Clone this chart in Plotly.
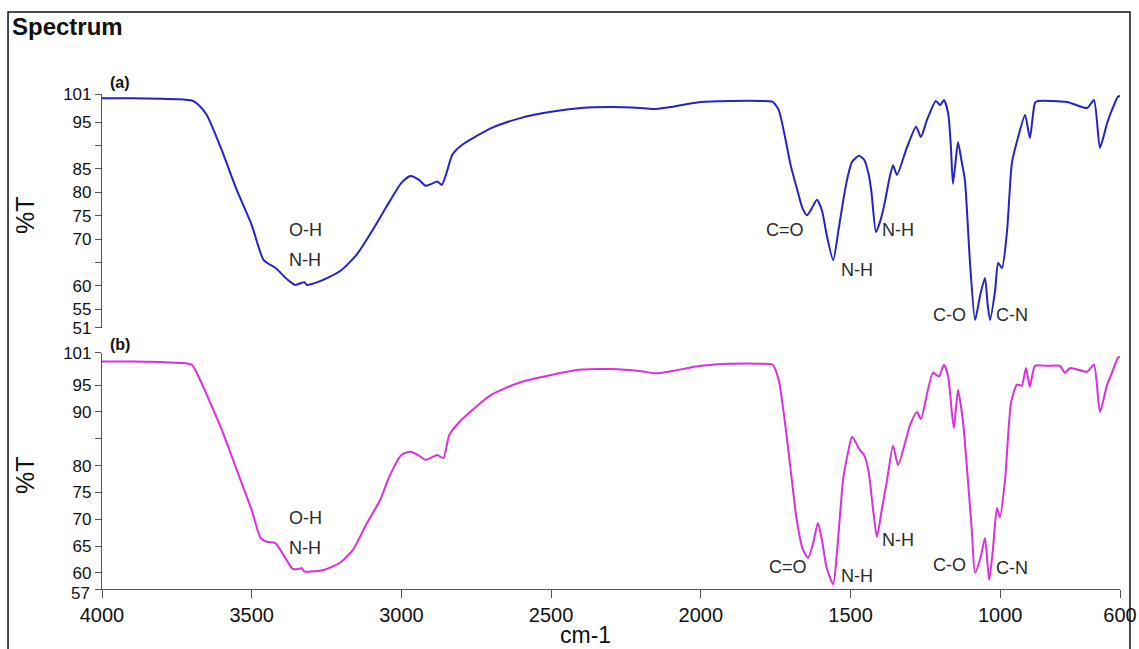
import plotly.graph_objects as go

# ---- data ----
wn_a = [4000, 3900, 3800, 3750, 3700, 3680, 3650, 3600, 3550, 3500, 3460, 3420, 3380, 3355, 3335, 3325, 3315,
        3280, 3240, 3200, 3150, 3100, 3050, 3000, 2970, 2940, 2920, 2900, 2880, 2865, 2850, 2830, 2800, 2700,
        2600, 2500, 2400, 2300, 2200, 2150, 2100, 2050, 2000, 1900, 1800, 1760, 1740, 1720, 1700, 1680, 1660,
        1645, 1630, 1612, 1595, 1580, 1558, 1540, 1525, 1512, 1495, 1472, 1455, 1440, 1430, 1415, 1400, 1385,
        1370, 1358, 1345, 1311, 1281, 1265, 1245, 1215, 1201, 1188, 1174, 1165, 1158, 1150, 1141, 1130, 1118,
        1101, 1084, 1067, 1051, 1042, 1034, 1017, 1007, 994, 977, 961, 941, 917, 901, 884, 874, 777, 710, 687,
        667, 643, 623, 607, 600]
t_a = [100.1, 100.1, 100.0, 99.9, 99.6, 98.8, 96.5, 89.0, 80.5, 73.0, 65.5, 63.8, 61.3, 60.2, 60.6, 60.8, 60.2,
       60.8, 61.9, 63.4, 66.6, 71.5, 76.9, 82.0, 83.5, 82.6, 81.4, 81.8, 82.3, 81.6, 84.0, 88.0, 90.0, 93.7,
       95.9, 97.2, 98.0, 98.2, 98.0, 97.8, 98.2, 98.8, 99.3, 99.5, 99.5, 99.3, 97.6, 92.2, 85.8, 81.0, 76.5,
       75.1, 76.5, 78.4, 76.0, 71.0, 65.5, 72.0, 78.0, 82.6, 86.5, 87.8, 87.0, 84.0, 80.0, 71.5, 74.0, 78.0,
       83.0, 85.8, 83.7, 89.7, 94.0, 91.8, 95.4, 99.5, 98.6, 99.7, 96.9, 90.0, 81.8, 86.0, 90.7, 87.0, 82.6,
       65.0, 52.7, 58.0, 61.7, 56.0, 52.7, 59.1, 64.9, 63.8, 71.9, 86.3, 91.6, 96.5, 91.6, 99.1, 99.5, 99.3, 98.0, 99.7,
       89.5, 94.8, 98.2, 100.4, 100.6]

wn_b = [4000, 3900, 3800, 3720, 3700, 3680, 3650, 3600, 3550, 3500, 3470, 3449, 3422, 3390, 3362, 3340, 3332,
        3325, 3312, 3262, 3205, 3162, 3115, 3071, 3040, 3000, 2970, 2945, 2920, 2900, 2880, 2860, 2840, 2800,
        2700, 2600, 2500, 2400, 2300, 2200, 2150, 2100, 2000, 1900, 1800, 1760, 1740, 1720, 1700, 1680, 1660,
        1642, 1625, 1609, 1595, 1580, 1558, 1545, 1525, 1510, 1495, 1470, 1455, 1440, 1425, 1412, 1395, 1378,
        1358, 1341, 1301, 1278, 1265, 1225, 1205, 1188, 1174, 1155, 1141, 1124, 1108, 1095, 1084, 1065, 1051,
        1037, 1025, 1011, 1001, 984, 964, 944, 928, 914, 901, 884, 844, 800, 784, 767, 710, 687, 667, 643, 627,
        607, 600]
t_b = [99.4, 99.4, 99.3, 99.1, 98.8, 96.9, 93.2, 86.7, 79.2, 71.7, 66.5, 65.8, 65.6, 63.0, 60.7, 60.8, 60.9,
       60.3, 60.2, 60.5, 61.9, 64.3, 69.3, 73.6, 78.0, 82.0, 82.6, 82.0, 81.1, 81.5, 82.0, 81.4, 85.7, 88.5,
       93.2, 95.6, 96.9, 97.9, 98.0, 97.6, 97.2, 97.6, 98.6, 99.0, 99.0, 98.8, 96.0, 88.5, 79.2, 70.0, 64.5,
       62.8, 65.5, 69.3, 66.0, 61.0, 57.9, 64.0, 77.3, 82.0, 85.4, 83.0, 82.0, 79.0, 72.0, 66.7, 72.0, 77.3,
       83.7, 80.1, 87.6, 90.0, 88.7, 97.3, 96.6, 98.8, 96.6, 87.0, 94.1, 88.0, 77.3, 68.0, 60.0, 63.0, 66.5,
       58.7, 64.0, 72.1, 70.4, 77.3, 91.7, 95.1, 94.9, 98.2, 94.7, 98.6, 98.6, 98.6, 97.3, 98.2, 97.5, 98.8, 90.0,
       95.1, 97.3, 100.1, 100.3]

x_ticks = [4000, 3500, 3000, 2500, 2000, 1500, 1000, 600]
ya_ticks = [101, 95, 90, 85, 80, 75, 70, 65, 60, 55, 51]
ya_text = ["101", "95", "", "85", "80", "75", "70", "", "60", "55", "51"]
yb_ticks = [101, 95, 90, 85, 80, 75, 70, 65, 60, 57]
yb_text = ["101", "95", "90", "", "80", "75", "70", "65", "60", ""]
yb_low_value = 57   # lowest tick of panel (b), labelled separately just below its tick

# peak labels: (text, wavenumber, %T)
labels_a = [("O-H", 3322, 71.9), ("N-H", 3322, 65.5), ("C=O", 1719, 71.9), ("N-H", 1478, 63.4),
            ("N-H", 1341, 71.9), ("C-O", 1168, 53.8), ("C-N", 961, 53.8)]
labels_b = [("O-H", 3322, 70.2), ("N-H", 3322, 64.6), ("C=O", 1709, 61.1), ("N-H", 1478, 59.4),
            ("N-H", 1341, 66.1), ("C-O", 1168, 61.5), ("C-N", 961, 60.9)]

FONT = "Liberation Sans, Arial, sans-serif"
AXC = "#555555"

fig = go.Figure()
fig.add_trace(go.Scatter(x=wn_a, y=t_a, mode="lines", xaxis="x2", yaxis="y2",
                         line=dict(color="#2323c8", width=2, shape="spline", smoothing=0.6),
                         showlegend=False, hoverinfo="x+y"))
fig.add_trace(go.Scatter(x=wn_b, y=t_b, mode="lines", xaxis="x", yaxis="y",
                         line=dict(color="#dc2edc", width=2, shape="spline", smoothing=0.6),
                         showlegend=False, hoverinfo="x+y"))

annotations = []
for txt, x, y in labels_a:
    annotations.append(dict(text=txt, x=x, y=y, xref="x2", yref="y2", showarrow=False,
                            xanchor="center", yanchor="middle",
                            font=dict(family=FONT, size=18, color="#2a2a2a")))
for txt, x, y in labels_b:
    annotations.append(dict(text=txt, x=x, y=y, xref="x", yref="y", showarrow=False,
                            xanchor="center", yanchor="middle",
                            font=dict(family=FONT, size=18, color="#2a2a2a")))

annotations += [
    dict(text=str(yb_low_value), x=-0.0098, y=yb_low_value, xref="paper", yref="y", xanchor="right",
         yanchor="middle", yshift=-4, showarrow=False, font=dict(family=FONT, size=17, color="#111111")),
    dict(text="<b>Spectrum</b>", x=-0.0904, y=1.137, xref="paper", yref="paper", xanchor="left",
         yanchor="middle", showarrow=False, font=dict(family=FONT, size=24, color="#111111")),
    dict(text="<b>(a)</b>", x=0.006, y=1.024, xref="paper", yref="paper", xanchor="left",
         yanchor="middle", showarrow=False, font=dict(family=FONT, size=16, color="#111111")),
    dict(text="<b>(b)</b>", x=0.006, y=0.493, xref="paper", yref="paper", xanchor="left",
         yanchor="middle", showarrow=False, font=dict(family=FONT, size=16, color="#111111")),
    dict(text="%T", x=-0.0756, y=0.7556, xref="paper", yref="paper", textangle=-90,
         xanchor="center", yanchor="middle",
         showarrow=False, font=dict(family=FONT, size=25, color="#111111")),
    dict(text="%T", x=-0.0756, y=0.2303, xref="paper", yref="paper", textangle=-90,
         xanchor="center", yanchor="middle",
         showarrow=False, font=dict(family=FONT, size=25, color="#111111")),
    dict(text="cm-1", x=0.4745, y=-0.093, xref="paper", yref="paper", showarrow=False,
         xanchor="center", yanchor="middle",
         font=dict(family=FONT, size=23, color="#111111")),
]

fig.update_layout(
    width=1139, height=649, autosize=False,
    margin=dict(l=102, r=19, t=94, b=60),
    paper_bgcolor="white", plot_bgcolor="white",
    font=dict(family=FONT, color="#111111"),
    xaxis=dict(range=[4000, 600], domain=[0, 1], anchor="y", tickvals=x_ticks, automargin=False,
               ticktext=[str(v) for v in x_ticks], showgrid=False, zeroline=False,
               showline=True, linecolor=AXC, linewidth=1.2, ticks="outside", ticklen=8,
               tickcolor=AXC, tickfont=dict(size=20, color="#111111")),
    xaxis2=dict(range=[4000, 600], domain=[0, 1], anchor="y2", matches="x", automargin=False,
                showticklabels=False, showgrid=False, zeroline=False, showline=False, ticks=""),
    yaxis=dict(range=[57, 101], domain=[0, 0.4768], anchor="x", tickvals=yb_ticks, ticktext=yb_text,
               automargin=False,
               showgrid=False, zeroline=False, showline=True, linecolor=AXC, linewidth=1.2,
               ticks="outside", ticklen=6, tickcolor=AXC, tickfont=dict(size=17, color="#111111")),
    yaxis2=dict(range=[51, 101], domain=[0.5273, 1.0], anchor="x2", tickvals=ya_ticks, ticktext=ya_text,
                automargin=False,
                showgrid=False, zeroline=False, showline=True, linecolor=AXC, linewidth=1.2,
                ticks="outside", ticklen=6, tickcolor=AXC, tickfont=dict(size=17, color="#111111")),
    annotations=annotations,
    shapes=[dict(type="rect", xref="paper", yref="paper", x0=-0.0923, x1=1.0098, y0=-0.16, y1=1.1657,
                 line=dict(color="#111111", width=1.5), fillcolor="rgba(0,0,0,0)")],
)

fig.write_html("out.html")
